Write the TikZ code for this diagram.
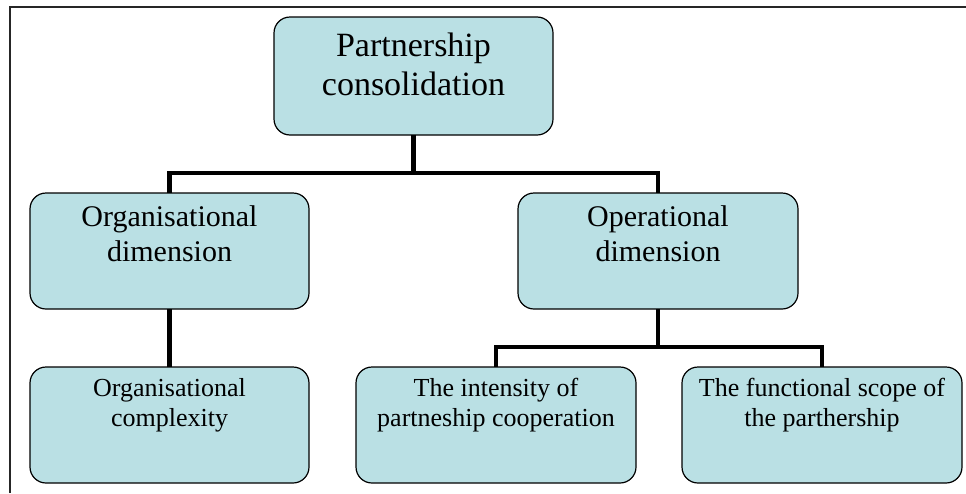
\documentclass[tikz,border=0pt]{standalone}
\usepackage{fontspec}
\setmainfont{Liberation Serif}
\usetikzlibrary{calc}
\definecolor{boxfill}{RGB}{186,224,228}
\tikzset{
  box/.style={draw=black, line width=1.2pt, fill=boxfill, rounded corners=16pt, inner sep=0pt},
  conn/.style={draw=black, line width=4.5pt, line join=miter},
  txtbig/.style={font=\fontsize{34}{39}\selectfont, align=center, inner sep=0pt, anchor=base},
  txtmid/.style={font=\fontsize{30}{35}\selectfont, align=center, inner sep=0pt, anchor=base},
  txtsmall/.style={font=\fontsize{26}{30}\selectfont, align=center, inner sep=0pt, anchor=base},
}
\begin{document}
\begin{tikzpicture}[x=1pt, y=-1pt]
\useasboundingbox (0,0) rectangle (966,493);
% frame
\draw[line width=1.5pt, black!85] (10,493) -- (10,7) -- (966,7);
% boxes
\path[box] (274,17) rectangle (553,135);
\node[inner sep=0pt, minimum width=279pt, minimum height=118pt] (top) at (413.5,76) {};
\path[box] (30,193) rectangle (309,309);
\node[inner sep=0pt, minimum width=279pt, minimum height=116pt] (orgdim) at (169.5,251) {};
\path[box] (518,193) rectangle (798,309);
\node[inner sep=0pt, minimum width=280pt, minimum height=116pt] (opdim) at (658,251) {};
\path[box] (30,367) rectangle (309,483);
\node[inner sep=0pt, minimum width=279pt, minimum height=116pt] (orgcx) at (169.5,425) {};
\path[box] (356,367) rectangle (636,483);
\node[inner sep=0pt, minimum width=280pt, minimum height=116pt] (inten) at (496,425) {};
\path[box] (682,367) rectangle (962,483);
\node[inner sep=0pt, minimum width=280pt, minimum height=116pt] (func) at (822,425) {};
% connectors
\coordinate (j1) at (top.south |- 0,173);
\coordinate (j2) at (opdim.south |- 0,347);
\draw[conn] (top.south) -- (j1);
\draw[conn] (orgdim.north) |- (j1) -| (opdim.north);
\draw[conn] (orgdim.south) -- (orgcx.north);
\draw[conn] (opdim.south) -- (j2);
\draw[conn] (inten.north) |- (j2) -| (func.north);
% texts (anchor = baseline of last line)
\node[txtbig] (ttop) at ([yshift=-79pt]top.north) {Partnership\\consolidation};
\node[txtmid] (torgdim) at ([yshift=-69pt]orgdim.north) {Organisational\\dimension};
\node[txtmid] (topdim) at ([yshift=-69pt]opdim.north) {Operational\\dimension};
\node[txtsmall] (torgcx) at ([yshift=-60pt]orgcx.north) {Organisational\\complexity};
\node[txtsmall] (tinten) at ([yshift=-60pt]inten.north) {The intensity of\\partneship cooperation};
\node[txtsmall] (tfunc) at ([yshift=-60pt]func.north) {The functional scope of\\the parthership};
\end{tikzpicture}
\end{document}
